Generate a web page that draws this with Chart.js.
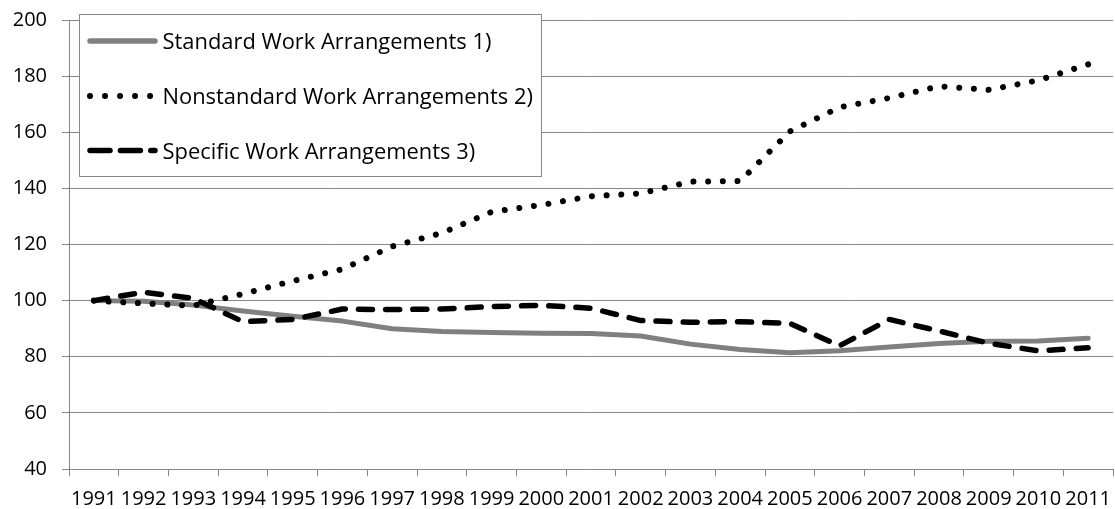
<!DOCTYPE html>
<html><head><meta charset="utf-8">
<script src="https://cdn.jsdelivr.net/npm/chart.js@4/dist/chart.umd.min.js"></script>
<style>html,body{margin:0;padding:0;background:#fff;} #wrap{position:relative;width:1115px;height:509px;}</style>
</head><body><div id="wrap"><canvas id="c" width="1115" height="509"></canvas></div>
<script>
const years = ['1991','1992','1993','1994','1995','1996','1997','1998','1999','2000','2001','2002','2003','2004','2005','2006','2007','2008','2009','2010','2011'];
const standard = [100, 99.8, 98.4, 96.3, 94.4, 92.7, 90.0, 89.0, 88.6, 88.4, 88.3, 87.4, 84.5, 82.6, 81.4, 82.1, 83.5, 84.7, 85.5, 85.6, 86.6];
const nonstandard = [100, 99.0, 98.2, 102.4, 107.0, 111.2, 119.3, 124.1, 131.6, 134.1, 137.2, 138.2, 142.4, 142.6, 160.3, 168.9, 172.2, 176.4, 175.1, 178.5, 184.2];
const specific = [100, 103.0, 100.8, 92.5, 93.3, 97.0, 96.8, 97.0, 97.9, 98.3, 97.3, 92.9, 92.3, 92.5, 91.9, 83.9, 93.3, 89.2, 84.8, 82.1, 83.2];
const yMin = 40, yMax = 200, yStep = 20;
const seriesLabels = ['Standard Work Arrangements 1)', 'Nonstandard Work Arrangements 2)', 'Specific Work Arrangements 3)'];

const FONT = '"Open Sans", "Liberation Sans", sans-serif';
const GRID = '#878787';

const boxLegend = {
  id: 'boxLegend',
  afterDraw(chart, args, o) {
    const ctx = chart.ctx;
    ctx.save();
    ctx.fillStyle = '#ffffff';
    ctx.fillRect(o.x, o.y, o.w, o.h);
    ctx.strokeStyle = GRID; ctx.lineWidth = 1;
    ctx.strokeRect(o.x + 0.5, o.y + 0.5, o.w, o.h);
    chart.data.datasets.forEach((ds, i) => {
      const ly = o.rowY[i];
      ctx.beginPath();
      ctx.setLineDash(o.dashes[i]);
      ctx.lineCap = 'round';
      ctx.strokeStyle = ds.borderColor;
      ctx.lineWidth = o.widths[i];
      ctx.moveTo(o.sx0, ly); ctx.lineTo(o.sx1, ly); ctx.stroke();
      ctx.setLineDash([]);
      ctx.fillStyle = '#000';
      ctx.font = o.font;
      ctx.textBaseline = 'alphabetic';
      ctx.textAlign = 'left';
      ctx.fillText(ds.label, o.tx, o.baseY[i]);
    });
    ctx.restore();
  }
};

new Chart(document.getElementById('c'), {
  type: 'line',
  data: {
    labels: years,
    datasets: [
      { label: seriesLabels[0], data: standard, borderColor: '#808080', borderWidth: 5, borderCapStyle: 'round', borderJoinStyle: 'round', pointRadius: 0, tension: 0, fill: false, order: 3 },
      { label: seriesLabels[1], data: nonstandard, borderColor: '#000000', borderWidth: 6, borderDash: [0.01, 14.7], borderCapStyle: 'round', borderJoinStyle: 'round', pointRadius: 0, tension: 0, fill: false, order: 2 },
      { label: seriesLabels[2], data: specific, borderColor: '#000000', borderWidth: 5.5, borderDash: [14, 13.2], borderCapStyle: 'round', borderJoinStyle: 'round', pointRadius: 0, tension: 0, fill: false, order: 1 }
    ]
  },
  options: {
    responsive: false,
    animation: false,
    devicePixelRatio: 1,
    layout: { padding: { top: 20, right: 2, left: 0, bottom: 0 } },
    plugins: {
      legend: { display: false },
      tooltip: { enabled: false },
      boxLegend: {
        x: 79, y: 14, w: 462, h: 162,
        sx0: 90, sx1: 155, tx: 162.5,
        rowY: [41, 96, 150.5],
        baseY: [49, 104, 158.5],
        widths: [5.5, 6, 5.5],
        dashes: [[], [0.01, 15], [20, 10.4]],
        font: '21.9px ' + FONT
      }
    },
    scales: {
      x: {
        type: 'category',
        offset: true,
        grid: { display: true, drawOnChartArea: false, drawTicks: true, tickLength: 7, color: GRID, offset: true, lineWidth: 1 },
        border: { display: true, color: GRID, width: 1 },
        ticks: { color: '#000', font: { family: FONT, size: 20 }, padding: 11, maxRotation: 0, autoSkip: false },
        afterFit: s => { s.height = 40; s.paddingLeft = 0; s.paddingRight = 0; }
      },
      y: {
        min: yMin, max: yMax,
        grid: { color: GRID, tickLength: 7, lineWidth: 1 },
        border: { display: true, color: GRID, width: 1 },
        ticks: { stepSize: yStep, color: '#000', font: { family: FONT, size: 20 }, padding: 15 },
        afterFit: s => { s.width = 69; s.paddingTop = 0; s.paddingBottom = 0; }
      }
    }
  },
  plugins: [boxLegend]
});
</script>
</body></html>
